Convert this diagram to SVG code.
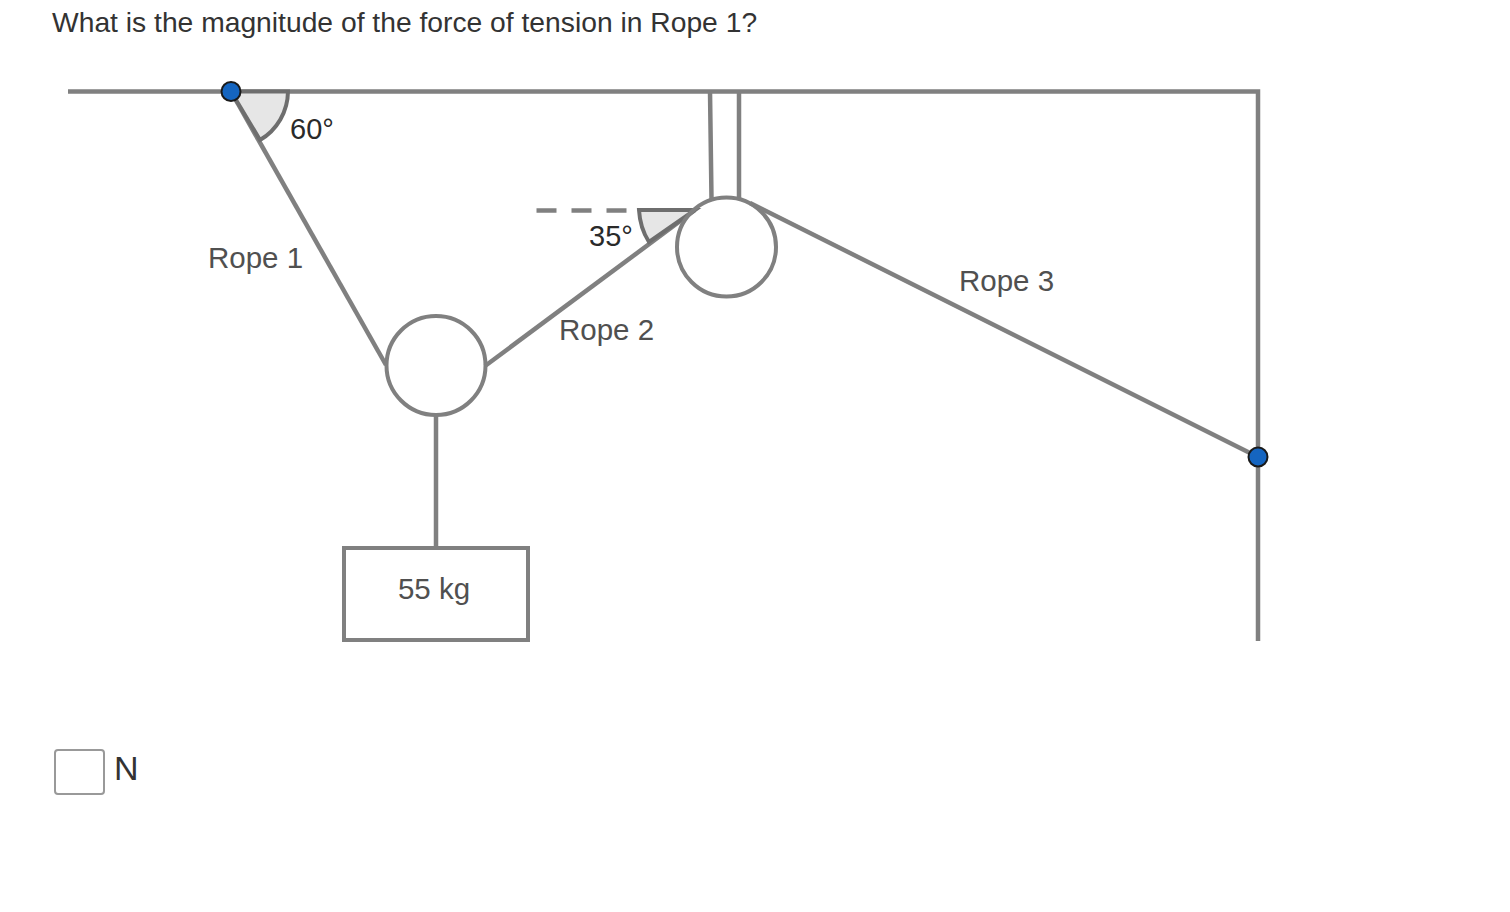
<svg xmlns="http://www.w3.org/2000/svg" width="1510" height="912" viewBox="0 0 1510 912">
<style>
text{font-family:"Liberation Sans",Arial,sans-serif;fill:#333}
.l{fill:none;stroke:#808080;stroke-width:4.500}
.w{fill:none;stroke:#808080;stroke-width:4}
.a{fill:#e6e6e6;stroke:#6e6e6e;stroke-width:4}
.p{fill:#1565c0;stroke:#1a1a1a;stroke-width:2}
.d{font-size:29.500px;fill:#505050}
.g{font-size:29px;fill:#2a2a2a}
</style>
<rect width="1510" height="912" fill="#fff"/>
<text id="question" x="52" y="32" font-size="28.250">What is the magnitude of the force of tension in Rope 1?</text>
<g id="connectors">
<path class="l" d="M68 91.500H1258V641"/>
<path class="l" d="M710 91L711.500 199M739 91V199"/>
<path class="l" d="M231 91.500L386 365"/>
<path class="l" d="M485 366L695 210"/>
<path class="l" d="M750 203L1258 457"/>
<path class="l" d="M436 415V548"/>
<path class="l" d="M536.500 210.500H628" stroke-dasharray="20 15"/>
</g>
<g id="angle60"><path class="a" d="M231 91.500H288A57 57 0 0 1 260 140Z"/><text class="g" x="290" y="139">60°</text></g>
<g id="angle35"><path class="a" d="M695 210H639Q640 228 649 242Z"/><text class="g" x="589" y="246">35°</text></g>
<g id="pulley1"><circle class="w" cx="436" cy="365.500" r="49.500"/></g>
<g id="pulley2"><circle class="w" cx="726.500" cy="247" r="49.500"/></g>
<g id="block"><rect class="w" x="344" y="548" width="184" height="92"/><text class="d" x="434" y="599" text-anchor="middle">55 kg</text></g>
<g id="rope1"><text class="d" x="208" y="268">Rope 1</text></g>
<g id="rope2"><text class="d" x="559" y="340">Rope 2</text></g>
<g id="rope3"><text class="d" x="959" y="291">Rope 3</text></g>
<g id="pin1"><circle class="p" cx="231" cy="91.500" r="9.500"/></g>
<g id="pin2"><circle class="p" cx="1258" cy="457" r="9.500"/></g>
<g id="answer"><rect x="55" y="750" width="49" height="44" rx="3" fill="#fff" stroke="#999" stroke-width="2"/><text x="114" y="780" font-size="34">N</text></g>
</svg>
